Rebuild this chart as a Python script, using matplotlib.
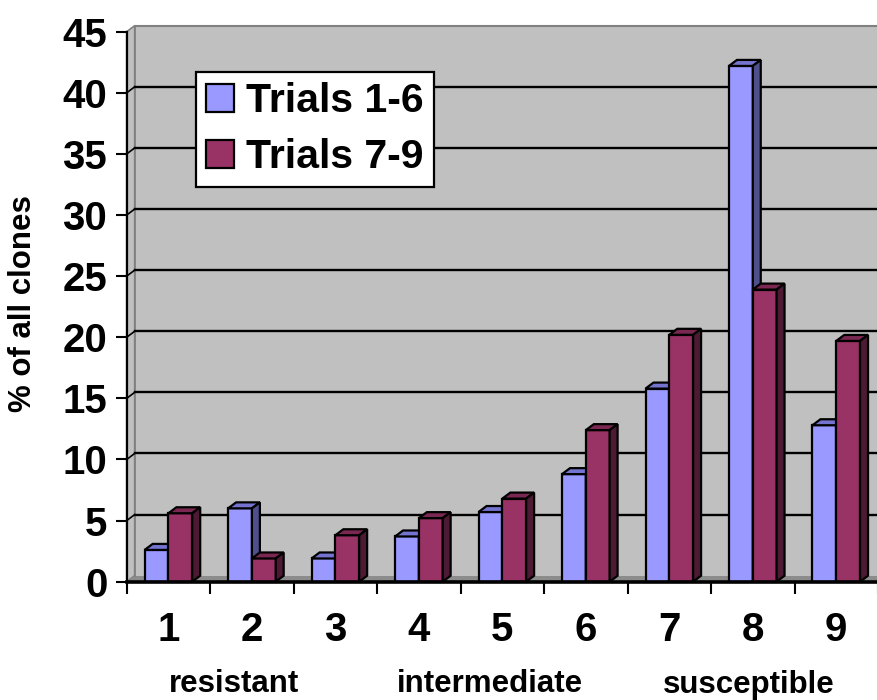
import matplotlib
matplotlib.use("Agg")
import matplotlib.pyplot as plt
from matplotlib.patches import Polygon, Rectangle, Patch
from matplotlib import transforms

plt.rcParams['font.family'] = ['Liberation Sans', 'DejaVu Sans']
plt.rcParams['font.weight'] = 'bold'

# Data: percentage of all clones per resistance class
categories = [1, 2, 3, 4, 5, 6, 7, 8, 9]
trials_1_6 = [2.6, 6.0, 1.9, 3.7, 5.7, 8.8, 15.8, 42.2, 12.8]
trials_7_9 = [5.6, 1.9, 3.8, 5.2, 6.8, 12.4, 20.2, 23.9, 19.7]
series_names = ["Trials 1-6", "Trials 7-9"]
y_ticks = [0, 5, 10, 15, 20, 25, 30, 35, 40, 45]
group_labels = ["resistant", "intermediate", "susceptible"]
group_positions = [1.79, 4.85, 7.95]

W_PX, H_PX = 878, 700
fig = plt.figure(figsize=(W_PX / 100, H_PX / 100), dpi=100)

# axes frame in pixels
x0_px, y0_px, ytop_px = 126.7, 581.7, 31.7
cat_px = 83.75
ax = fig.add_axes([x0_px / W_PX, (H_PX - y0_px) / H_PX,
                   (W_PX - x0_px) / W_PX, (y0_px - ytop_px) / H_PX])
xmin, xmax = 0.5, 0.5 + (W_PX - x0_px) / cat_px
ymax = 45
ax.set_xlim(xmin, xmax)
ax.set_ylim(0, ymax)
ax.set_facecolor('none')

px_per_unit = (y0_px - ytop_px) / ymax
# depth offset of the 3D walls / bars, in data units
ddx = 8 / cat_px
ddy = 6 / px_per_unit

wall_gray = '#C0C0C0'
edge_gray = '#808080'
floor_gray = '#8C8C8C'

# back wall
ax.add_patch(Rectangle((xmin + ddx, ddy), xmax - xmin, ymax, facecolor=wall_gray,
                       edgecolor='none', zorder=0, clip_on=False))
# side wall
ax.add_patch(Polygon([(xmin, 0), (xmin + ddx, ddy), (xmin + ddx, ymax + ddy), (xmin, ymax)],
                     closed=True, facecolor=wall_gray, edgecolor=edge_gray, lw=1.2,
                     zorder=0.5, clip_on=False))
# floor
ax.add_patch(Polygon([(xmin, 0), (xmax + 1, 0), (xmax + 1, ddy), (xmin + ddx, ddy)],
                     closed=True, facecolor=floor_gray, edgecolor='none', zorder=0.6,
                     clip_on=False))
# wall outline
ax.plot([xmin + ddx, xmax + 1], [ymax + ddy, ymax + ddy], color=edge_gray, lw=1.5,
        zorder=0.7, clip_on=False)
ax.plot([xmin + ddx, xmin + ddx], [ddy, ymax + ddy], color=edge_gray, lw=1.2,
        zorder=0.7, clip_on=False)

# gridlines on back wall and side wall
for v in y_ticks[1:-1]:
    ax.plot([xmin + ddx, xmax + 1], [v + ddy, v + ddy], color='black', lw=1.7,
            zorder=0.8, clip_on=False)
    ax.plot([xmin, xmin + ddx], [v, v + ddy], color='black', lw=1.2, zorder=0.8,
            clip_on=False)

bw = 0.285
colors = [('#9999FF', '#7474D0', '#4F4F8C'), ('#993366', '#7A2852', '#4C1A33')]


def bar3d(x_left, val, cols, z):
    front, top, side = cols
    ax.bar(x_left, val, width=bw, align='edge', color=front, edgecolor='black',
           lw=1.6, zorder=z)
    x1 = x_left + bw
    ax.add_patch(Polygon([(x_left, val), (x1, val), (x1 + ddx, val + ddy),
                          (x_left + ddx, val + ddy)], closed=True, facecolor=top,
                         edgecolor='black', lw=1.6, zorder=z, joinstyle='miter'))
    ax.add_patch(Polygon([(x1, 0), (x1, val), (x1 + ddx, val + ddy), (x1 + ddx, ddy)],
                         closed=True, facecolor=side, edgecolor='black', lw=1.6,
                         zorder=z, joinstyle='miter'))


for i, c in enumerate(categories):
    bar3d(c - bw, trials_1_6[i], colors[0], 2 + i * 0.1)
    bar3d(c, trials_7_9[i], colors[1], 2.05 + i * 0.1)

# spines
for s in ['top', 'right']:
    ax.spines[s].set_visible(False)
ax.spines['left'].set_linewidth(1.6)
ax.spines['bottom'].set_linewidth(2.6)
ax.spines['left'].set_zorder(3)
ax.spines['bottom'].set_zorder(5)

tick_fs = 29
ax.set_yticks(y_ticks)
ax.set_yticklabels([str(t) for t in y_ticks])
ax.tick_params(axis='y', direction='out', length=8, width=1.5, pad=6,
               labelsize=tick_fs)
ax.set_xticks(categories)
ax.set_xticklabels([str(c) for c in categories])
ax.set_xticks([c + 0.5 for c in [0] + categories], minor=True)
ax.tick_params(axis='x', which='major', length=0, pad=21, labelsize=tick_fs)
ax.tick_params(axis='x', which='minor', direction='out', length=8.5, width=1.5)
for lab in ax.get_xticklabels() + ax.get_yticklabels():
    lab.set_fontweight('bold')

# y axis title
fig.text(23 / W_PX, (H_PX - 304) / H_PX, "% of all clones", rotation=90,
         ha='center', va='center', fontsize=22.5, fontweight='bold')

# resistance class labels below the axis
blend = transforms.blended_transform_factory(ax.transData, fig.transFigure)
for lab, xp in zip(group_labels, group_positions):
    ax.text(xp, 7.5 / H_PX, lab, transform=blend, ha='center', va='baseline',
            fontsize=22.5, fontweight='bold', clip_on=False)

handles = [Patch(facecolor=colors[0][0], edgecolor='black', lw=1.6),
           Patch(facecolor=colors[1][0], edgecolor='black', lw=1.6)]
leg = ax.legend(handles, series_names, loc='upper left',
                bbox_to_anchor=(195.7 / W_PX, (H_PX - 71.7) / H_PX),
                bbox_transform=fig.transFigure, frameon=True, fancybox=False,
                framealpha=1, facecolor='white', borderaxespad=0,
                prop={'weight': 'bold', 'size': 29.5},
                handlelength=0.68, handleheight=0.68, handletextpad=0.3,
                borderpad=0.25, labelspacing=0.45)
leg.get_frame().set_edgecolor('black')
leg.get_frame().set_linewidth(1.6)
leg.set_zorder(10)

fig.savefig("out.png", dpi=100)
